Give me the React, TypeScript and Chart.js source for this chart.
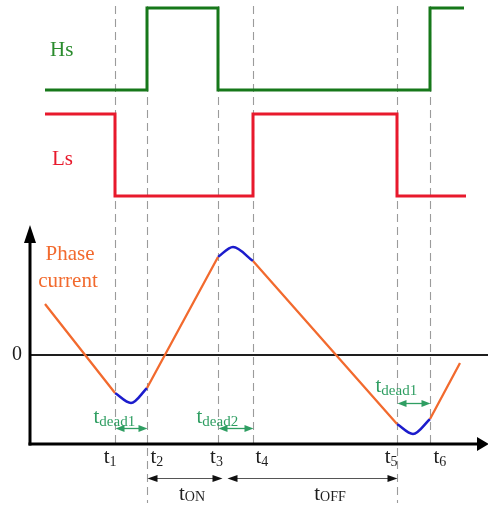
import { useEffect, useRef } from "react";
import { Chart, registerables } from "chart.js";

Chart.register(...registerables);

// ---- data -------------------------------------------------------------
// switching instants t1..t6 (time units, origin at the current axis)
const switchTimes = [8.5, 11.7, 18.8, 22.3, 36.7, 40.0];
const switchNames = ["1", "2", "3", "4", "5", "6"];

// high-side gate: level is held from each point until the next one
const hsTimes = [1.5, 11.7, 18.8, 40.0, 43.4];
const hsLevels = [0, 1, 0, 1, 1];

// low-side gate
const lsTimes = [1.5, 8.5, 22.3, 36.7, 43.6];
const lsLevels = [1, 0, 1, 0, 0];

// phase current while a switch conducts: linear ramps, given as start/end pairs
const rampTimes = [1.5, 8.5, 11.7, 18.8, 22.3, 36.7, 40.0, 43.0];
const rampCurrent = [5.1, -3.8, -3.3, 9.8, 9.4, -6.9, -6.4, -0.8];

// phase current during the dead times (body-diode conduction)
const dead1Times = [8.5, 10.1, 11.7];
const dead1Current = [-3.8, -4.8, -3.3];
const dead2Times = [18.8, 20.3, 22.3];
const dead2Current = [9.8, 10.8, 9.4];
const dead3Times = [36.7, 38.3, 40.0];
const dead3Current = [-6.9, -7.9, -6.4];

// dead-time spans (indices into switchTimes) and their subscripts
const deadSpans = [
  [0, 1],
  [2, 3],
  [4, 5],
];
const deadNames = ["dead1", "dead2", "dead1"];

// on / off periods (indices into switchTimes)
const periodSpans = [
  [1, 2],
  [2, 4],
];
const periodNames = ["ON", "OFF"];

// ---- layout & style ---------------------------------------------------
const W = 488;
const H = 505;
const SERIF = '"Liberation Serif", "Times New Roman", serif';

const GREEN = "#16781a";
const GREEN_TEXT = "#2b8c2e";
const RED = "#e8192c";
const ORANGE = "#f26a2e";
const BLUE = "#1c1ccc";
const DEAD_GREEN = "#2f9e62";
const INK = "#1e1e1e";

// level (current units) of the time axis, top of the current axis
const TIME_AXIS_LEVEL = -8.9;
const CURRENT_AXIS_TOP = 13.0;
// arrow / label levels of the dead-time annotations (current units)
const deadArrowLevel = [-7.3, -7.3, -4.8];
const deadTextLift = [6, 6, 12];
// markers that run down to the on/off dimension line
const longMarkers = [1, 4];
// tick label alignment relative to each marker
const tickAlign: Array<[CanvasTextAlign, number]> = [
  ["right", 1],
  ["left", 3],
  ["center", -2],
  ["left", 2],
  ["right", 0],
  ["left", 3],
];
const periodLabelShift = [9, 22];

// a logic lane: level 0 at lowPx, level 1 at highPx
function laneRange(lowPx: number, highPx: number) {
  const u = lowPx - highPx;
  return { min: -(H - lowPx) / u, max: 1 + highPx / u };
}

function drawSubText(
  ctx: CanvasRenderingContext2D,
  main: string,
  sub: string,
  x: number,
  baseline: number,
  align: CanvasTextAlign,
  color: string,
  mainSize: number,
  subSize: number,
  subDrop: number
) {
  ctx.font = `${mainSize}px ${SERIF}`;
  const w1 = ctx.measureText(main).width;
  ctx.font = `${subSize}px ${SERIF}`;
  const w2 = ctx.measureText(sub).width;
  const total = w1 + w2;
  const left = align === "left" ? x : align === "right" ? x - total : x - total / 2;
  ctx.fillStyle = color;
  ctx.textAlign = "left";
  ctx.textBaseline = "alphabetic";
  ctx.font = `${mainSize}px ${SERIF}`;
  ctx.fillText(main, left, baseline);
  ctx.font = `${subSize}px ${SERIF}`;
  ctx.fillText(sub, left + w1, baseline + subDrop);
}

function arrowHead(
  ctx: CanvasRenderingContext2D,
  tipX: number,
  tipY: number,
  dx: number,
  dy: number,
  len: number,
  half: number
) {
  // (dx, dy) is the unit direction the arrow points to
  const bx = tipX - dx * len;
  const by = tipY - dy * len;
  ctx.beginPath();
  ctx.moveTo(tipX, tipY);
  ctx.lineTo(bx - dy * half, by + dx * half);
  ctx.lineTo(bx + dy * half, by - dx * half);
  ctx.closePath();
  ctx.fill();
}

const timingPlugin = {
  id: "timingDiagram",
  beforeDatasetsDraw(chart: any) {
    const ctx: CanvasRenderingContext2D = chart.ctx;
    const x = chart.scales.x;
    const yI = chart.scales.yI;
    const axisY = yI.getPixelForValue(TIME_AXIS_LEVEL);
    const axisX = x.getPixelForValue(0);
    const zeroY = yI.getPixelForValue(0);

    ctx.save();
    // switching-instant markers
    ctx.strokeStyle = "#9b9b9b";
    ctx.lineWidth = 1.1;
    ctx.setLineDash([8, 5]);
    switchTimes.forEach((t, i) => {
      const px = Math.round(x.getPixelForValue(t)) + 0.5;
      const bottom = longMarkers.includes(i) ? H - 2 : axisY;
      ctx.beginPath();
      ctx.moveTo(px, 6);
      ctx.lineTo(px, bottom);
      ctx.stroke();
    });
    ctx.setLineDash([]);

    // zero-current line
    ctx.strokeStyle = INK;
    ctx.lineWidth = 2;
    ctx.beginPath();
    ctx.moveTo(axisX, zeroY);
    ctx.lineTo(W, zeroY);
    ctx.stroke();

    // axes with arrow heads
    const topY = yI.getPixelForValue(CURRENT_AXIS_TOP);
    ctx.fillStyle = "#000";
    ctx.strokeStyle = "#000";
    ctx.lineWidth = 3;
    ctx.beginPath();
    ctx.moveTo(axisX, axisY + 1.5);
    ctx.lineTo(axisX, topY + 12);
    ctx.stroke();
    arrowHead(ctx, axisX, topY, 0, -1, 18, 6);
    ctx.beginPath();
    ctx.moveTo(axisX - 1.5, axisY);
    ctx.lineTo(W - 8, axisY);
    ctx.stroke();
    arrowHead(ctx, W + 1, axisY, 1, 0, 12, 7);
    ctx.restore();
  },
  afterDatasetsDraw(chart: any) {
    const ctx: CanvasRenderingContext2D = chart.ctx;
    const x = chart.scales.x;
    const yI = chart.scales.yI;
    const axisY = yI.getPixelForValue(TIME_AXIS_LEVEL);
    const axisX = x.getPixelForValue(0);
    const zeroY = yI.getPixelForValue(0);
    const px = (i: number) => Math.round(x.getPixelForValue(switchTimes[i])) + 0.5;

    ctx.save();
    // signal names
    ctx.textAlign = "left";
    ctx.textBaseline = "alphabetic";
    ctx.font = `21px ${SERIF}`;
    ctx.fillStyle = GREEN_TEXT;
    ctx.fillText("Hs", 50, 56);
    ctx.fillStyle = RED;
    ctx.fillText("Ls", 52, 165);
    ctx.fillStyle = ORANGE;
    ctx.textAlign = "center";
    ctx.fillText("Phase", 70, 260);
    ctx.fillText("current", 68, 287);

    // zero label
    ctx.fillStyle = INK;
    ctx.font = `20px ${SERIF}`;
    ctx.textAlign = "center";
    ctx.textBaseline = "middle";
    ctx.fillText("0", axisX - 13, zeroY);

    // switching instant labels
    switchTimes.forEach((_, i) => {
      const [align, dx] = tickAlign[i];
      drawSubText(ctx, "t", switchNames[i], px(i) + dx, axisY + 19, align, INK, 21, 14, 3);
    });

    // dead-time annotations
    ctx.strokeStyle = DEAD_GREEN;
    ctx.fillStyle = DEAD_GREEN;
    deadSpans.forEach(([a, b], k) => {
      const y = Math.round(yI.getPixelForValue(deadArrowLevel[k])) + 0.5;
      const xa = px(a);
      const xb = px(b);
      ctx.lineWidth = 1.3;
      ctx.beginPath();
      ctx.moveTo(xa + 6, y);
      ctx.lineTo(xb - 6, y);
      ctx.stroke();
      ctx.fillStyle = DEAD_GREEN;
      arrowHead(ctx, xa, y, -1, 0, 9, 3.5);
      arrowHead(ctx, xb, y, 1, 0, 9, 3.5);
      const lift = deadTextLift[k];
      drawSubText(ctx, "t", deadNames[k], xa - 22, y - lift, "left", DEAD_GREEN, 21, 15, 3);
    });

    // on / off dimension lines
    const dimY = Math.round(axisY + 34) + 0.5;
    periodSpans.forEach(([a, b], k) => {
      const xa = px(a) + (k === 0 ? 0 : 9);
      const xb = px(b) + (k === 0 ? 4 : 0);
      ctx.strokeStyle = "#555";
      ctx.fillStyle = "#111";
      ctx.lineWidth = 1;
      ctx.beginPath();
      ctx.moveTo(xa + 6, dimY);
      ctx.lineTo(xb - 6, dimY);
      ctx.stroke();
      arrowHead(ctx, xa, dimY, -1, 0, 10, 3.5);
      arrowHead(ctx, xb, dimY, 1, 0, 10, 3.5);
      const mid = (px(a) + px(b)) / 2 + periodLabelShift[k];
      drawSubText(ctx, "t", periodNames[k], mid, axisY + 56, "center", INK, 21, 14, 1);
    });
    ctx.restore();
  },
};

const pairs = (xs: number[], ys: number[]) => xs.map((v, i) => ({ x: v, y: ys[i] }));

function rampPoints() {
  const pts: Array<{ x: number; y: number | null }> = [];
  for (let i = 0; i < rampTimes.length; i += 2) {
    if (i > 0) pts.push({ x: rampTimes[i], y: null });
    pts.push({ x: rampTimes[i], y: rampCurrent[i] });
    pts.push({ x: rampTimes[i + 1], y: rampCurrent[i + 1] });
  }
  return pts;
}

export default function App() {
  const canvasRef = useRef<HTMLCanvasElement | null>(null);

  useEffect(() => {
    if (!canvasRef.current) return;
    const hsRange = laneRange(90, 8);
    const lsRange = laneRange(196, 114);
    const deadStyle = {
      borderColor: BLUE,
      borderWidth: 2.5,
      pointRadius: 0,
      cubicInterpolationMode: "monotone" as const,
      yAxisID: "yI",
    };
    const chart = new Chart(canvasRef.current, {
      type: "line",
      data: {
        datasets: [
          {
            label: "Hs",
            data: pairs(hsTimes, hsLevels),
            borderColor: GREEN,
            borderWidth: 3,
            pointRadius: 0,
            stepped: true,
            borderJoinStyle: "miter",
            yAxisID: "yHs",
          },
          {
            label: "Ls",
            data: pairs(lsTimes, lsLevels),
            borderColor: RED,
            borderWidth: 3,
            pointRadius: 0,
            stepped: true,
            borderJoinStyle: "miter",
            yAxisID: "yLs",
          },
          {
            label: "Phase current",
            data: rampPoints(),
            borderColor: ORANGE,
            borderWidth: 2.3,
            pointRadius: 0,
            spanGaps: false,
            yAxisID: "yI",
          },
          { label: "dead time 1", data: pairs(dead1Times, dead1Current), ...deadStyle },
          { label: "dead time 2", data: pairs(dead2Times, dead2Current), ...deadStyle },
          { label: "dead time 3", data: pairs(dead3Times, dead3Current), ...deadStyle },
        ],
      },
      options: {
        animation: false,
        responsive: false,
        layout: { padding: 0 },
        plugins: {
          legend: { display: false },
          tooltip: { enabled: false },
        },
        scales: {
          x: { type: "linear", min: -3.0, max: 45.8, display: false },
          yI: { type: "linear", min: -15, max: 35.5, display: false },
          yHs: { type: "linear", min: hsRange.min, max: hsRange.max, display: false },
          yLs: { type: "linear", min: lsRange.min, max: lsRange.max, display: false },
        },
      },
      plugins: [timingPlugin],
    });
    return () => chart.destroy();
  }, []);

  return (
    <div style={{ position: "fixed", left: 0, top: 0, width: W, height: H, background: "#fff" }}>
      <canvas ref={canvasRef} width={W} height={H} style={{ display: "block" }} />
    </div>
  );
}
